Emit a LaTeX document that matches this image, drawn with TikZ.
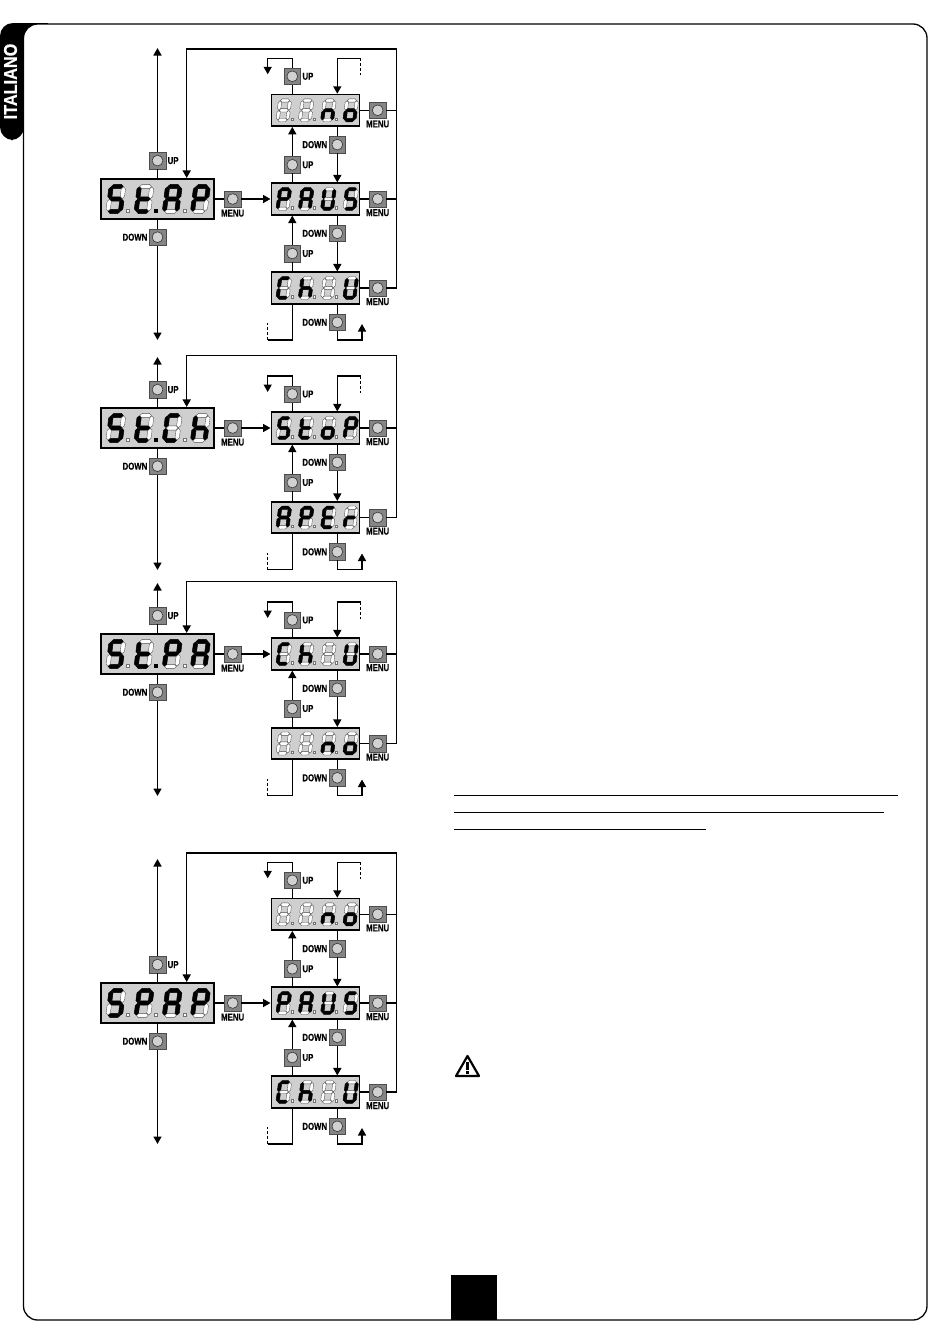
\documentclass[tikz,border=0pt]{standalone}
\usepackage{fontspec}
\usepackage{xstring}
\setmainfont{Liberation Sans}
\newfontfamily\lblfont[FakeStretch=0.78,FakeBold=0.4]{Liberation Sans Bold}
\newfontfamily\tabfont[FakeStretch=0.88,FakeBold=0.6]{Liberation Sans Bold}
\usetikzlibrary{arrows.meta,positioning}
\definecolor{dispgray}{gray}{0.81}
\definecolor{btngray}{gray}{0.52}
\definecolor{capgray}{gray}{0.82}
\tikzset{
  wire/.style={line width=1.5pt,line join=miter},
  tip/.style={-{Triangle[width=8pt,length=7.5pt]}},
  maindisp/.style={draw,line width=1.6pt,fill=dispgray,minimum width=112.5pt,minimum height=40.5pt,inner sep=0pt,text opacity=0,font=\small},
  smalldisp/.style={draw,line width=1.6pt,fill=dispgray,minimum width=88pt,minimum height=31.5pt,inner sep=0pt,text opacity=0,font=\small},
  btn/.style={draw=black!70,line width=.5pt,fill=btngray,minimum size=16.5pt,inner sep=0pt,
    path picture={\draw[fill=capgray,draw=black!80,line width=.6pt] (path picture bounding box.center) circle [radius=5.4pt];}},
  btnlab/.style={font=\lblfont\fontsize{10}{10}\selectfont,inner sep=0pt},
  segon/.style={fill=black,draw=black,line width=.5pt},
  segoff/.style={fill=white,draw=black!70,line width=.35pt},
  dotoff/.style={fill=white,draw=black!55,line width=.3pt},
  doton/.style={fill=black,draw=black,line width=.25pt}
}
\newcommand{\segrow}[5]{%
  \foreach \segs [count=\dg from 0] in {#5} {
    \begin{scope}[shift={(#1+\dg*#4,#2)},xslant=.13,x=#3pt,y=-#3pt]
      \foreach \sg/\px/\py/\rt in {a/0/-1/0,b/.5/-.5/90,c/.5/.5/90,d/0/1/0,e/-.5/.5/90,f/-.5/-.5/90,g/0/0/0} {
        \IfSubStr{\segs}{\sg}{\def\segstyle{segon}}{\def\segstyle{segoff}}
        \begin{scope}[shift={(\px,\py)},rotate=\rt]
          \path[\segstyle] (-.47,0) -- (-.30,-.17) -- (.30,-.17) -- (.47,0) -- (.30,.17) -- (-.30,.17) -- cycle;
        \end{scope}
      }
    \end{scope}
  }
}
\newcommand{\dotrow}[4]{%
  \foreach \dx [count=\dn] in {#2} {
    \ifnum\dn=#4 \def\dotstyle{doton}\else\def\dotstyle{dotoff}\fi
    \path[\dotstyle] (\dx-#3,#1-#3) rectangle (\dx+#3,#1+#3);
  }
}
\newcommand{\mainpart}[7]{%
  \node [maindisp] (#1main) at (157.5,#2) {#5};
  \segrow{115.8}{#2}{12.5}{28.2}{#6}
  \dotrow{#2+12}{127.7,155.7,184.3}{1.5}{#7}
  \node [btn] (#1up) at (157.5,#2-38.4) {};
  \node [btn] (#1down) at (157.5,#2+38.2) {};
  \node [btn] (#1menu) at (232.7,#2) {};
  \node [btnlab,right=1.5pt of #1up] (#1uplab) {UP};
  \node [btnlab,left=1.5pt of #1down] (#1downlab) {DOWN};
  \node [btnlab,below=2pt of #1menu] (#1menulab) {MENU};
  \coordinate (#1upend) at (157.5,#3);
  \coordinate (#1downend) at (157.5,#4);
  \draw[wire] (#1main) -- (#1up);
  \draw[wire] (#1main) -- (#1down);
  \draw[wire,tip] (#1up) -- (#1upend);
  \draw[wire,tip] (#1down) -- (#1downend);
  \draw[wire] (#1main) -- (#1menu);
}
\newcommand{\smallpart}[4]{%
  \node [smalldisp] (#1) at (315.3,#2) {#3};
  \segrow{283.8}{#2}{9.8}{22.3}{#4}
  \dotrow{#2+8.7}{292.3,314.3,336.3}{1.3}{0}
  \node [btn] (#1menu) at (377.7,#2) {};
  \node [btnlab,below=1.5pt of #1menu] (#1menulab) {MENU};
  \coordinate (#1bus) at (396.7,#2);
  \draw[wire] (#1) -- (#1menu);
  \draw[wire] (#1menu) -- (#1bus);
}
\newcommand{\linkrows}[3]{%
  \node [btn] (#1dn) at (337.3,#3+34.3) {};
  \node [btn] (#1ub) at (292.3,#3+54.5) {};
  \node [btnlab,left=1.5pt of #1dn] (#1dnlab) {DOWN};
  \node [btnlab,right=1.5pt of #1ub] (#1ublab) {UP};
  \draw[wire] (#1.south -| #1dn) -- (#1dn);
  \draw[wire,tip] (#1dn) -- (#2.north -| #1dn);
  \draw[wire] (#2.north -| #1ub) -- (#1ub);
  \draw[wire,tip] (#1ub) -- (#1.south -| #1ub);
}
\newcommand{\topwires}[2]{%
  \node [btn] (#1ub) at (292.3,#2-34) {};
  \node [btnlab,right=1.5pt of #1ub] (#1ublab) {UP};
  \coordinate (#1tl) at (267.7,#2-52);
  \coordinate (#1tla) at (267.7,#2-36);
  \coordinate (#1tm) at (292.3,#2-52);
  \coordinate (#1tr) at (337.3,#2-52);
  \coordinate (#1te) at (360.7,#2-52);
  \coordinate (#1td) at (360.7,#2-35);
  \draw[wire] (#1.north -| #1ub) -- (#1ub);
  \draw[wire,tip] (#1ub) -- (#1tm) -- (#1tl) -- (#1tla);
  \draw[wire,tip] (#1te) -- (#1tr) -- (#1.north -| #1tr);
  \draw[wire,densely dashed] (#1te) -- (#1td);
}
\newcommand{\botwires}[2]{%
  \node [btn] (#1dn) at (337.3,#2+34.3) {};
  \node [btnlab,left=1.5pt of #1dn] (#1dnlab) {DOWN};
  \coordinate (#1bm) at (292.3,#2+52);
  \coordinate (#1bl) at (267.7,#2+52);
  \coordinate (#1bd) at (267.7,#2+35);
  \coordinate (#1br) at (362,#2+52);
  \coordinate (#1bc) at (337.3,#2+52);
  \coordinate (#1ba) at (362,#2+36);
  \draw[wire] (#1.south -| #1bm) -- (#1bm) -- (#1bl);
  \draw[wire,densely dashed] (#1bl) -- (#1bd);
  \draw[wire] (#1.south -| #1dn) -- (#1dn);
  \draw[wire,tip] (#1dn) -- (#1bc) -- (#1br) -- (#1ba);
}
\newcommand{\busline}[3]{%
  \coordinate (#1bt) at (396.7,#3);
  \coordinate (#1ft) at (186.7,#3);
  \draw[wire,tip] (#2bus) -- (#1bt) -- (#1ft) -- (#1main.north -| #1ft);
}
\begin{document}
\begin{tikzpicture}[x=1pt,y=-1pt]
\useasboundingbox (0,0) rectangle (950,1344);
\fill[white] (0,0) rectangle (950,1344);
\fill[black,rounded corners=13pt] (48,23) -- (0,23) -- (0,140) -- (24,140) -- (24,23) -- cycle;
\fill[black] (24,23) rectangle (48,40);
\draw[fill=white,line width=1.3pt,rounded corners=14pt] (23.5,24) rectangle (927,1320);
\fill[black] (451,1275) rectangle (497,1320);
\node [font=\tabfont\fontsize{18.5}{18.5}\selectfont,text=white,rotate=90,inner sep=0pt] (tablab) at (10.5,81.5) {ITALIANO};

\mainpart{a}{199}{48}{340}{St.AP}{acdfg,defg,abcefg,abefg}{2}
\smallpart{a1}{110.3}{no}{-,-,ceg,cdeg}
\smallpart{a2}{199}{PAUS}{abefg,abcefg,bcdef,acdfg}
\smallpart{a3}{288}{ChiU}{adef,cefg,-,bcdef}
\draw[wire,tip] (amenu) -- (a2);
\topwires{a1}{110.3}
\linkrows{a1}{a2}{110.3}
\linkrows{a2}{a3}{199}
\botwires{a3}{288}
\busline{a}{a3}{49}

\mainpart{b}{428}{357}{570}{St.Ch}{acdfg,defg,adef,cefg}{2}
\smallpart{b1}{428}{StoP}{acdfg,defg,cdeg,abefg}
\smallpart{b2}{517.5}{APEr}{abcefg,abefg,adefg,eg}
\draw[wire,tip] (bmenu) -- (b1);
\topwires{b1}{428}
\linkrows{b1}{b2}{428}
\botwires{b2}{517.5}
\busline{b}{b2}{355.7}

\mainpart{c}{654}{583}{796}{St.PA}{acdfg,defg,abefg,abcefg}{2}
\smallpart{c1}{654}{ChiU}{adef,cefg,-,bcdef}
\smallpart{c2}{743.5}{no}{-,-,ceg,cdeg}
\draw[wire,tip] (cmenu) -- (c1);
\topwires{c1}{654}
\linkrows{c1}{c2}{654}
\botwires{c2}{743.5}
\busline{c}{c2}{581.7}

\mainpart{d}{1003}{859}{1144}{SPAP}{acdfg,abefg,abcefg,abefg}{0}
\smallpart{d1}{914.3}{no}{-,-,ceg,cdeg}
\smallpart{d2}{1003}{PAUS}{abefg,abcefg,bcdef,acdfg}
\smallpart{d3}{1092}{ChiU}{adef,cefg,-,bcdef}
\draw[wire,tip] (dmenu) -- (d2);
\topwires{d1}{914.3}
\linkrows{d1}{d2}{914.3}
\linkrows{d2}{d3}{1003}
\botwires{d3}{1092}
\busline{d}{d3}{853}

\draw[line width=.9pt] (454,795) -- (898,795);
\draw[line width=.9pt] (454,812) -- (884,812);
\draw[line width=.9pt] (454,829) -- (706,829);

\draw[line width=2.2pt,line join=round] (467.5,1056) -- (479,1076) -- (456,1076) -- cycle;
\draw[line width=2.4pt] (467.5,1061.5) -- (467.5,1069.8);
\fill[black] (466.2,1071) rectangle (468.8,1073.6);
\end{tikzpicture}
\end{document}
